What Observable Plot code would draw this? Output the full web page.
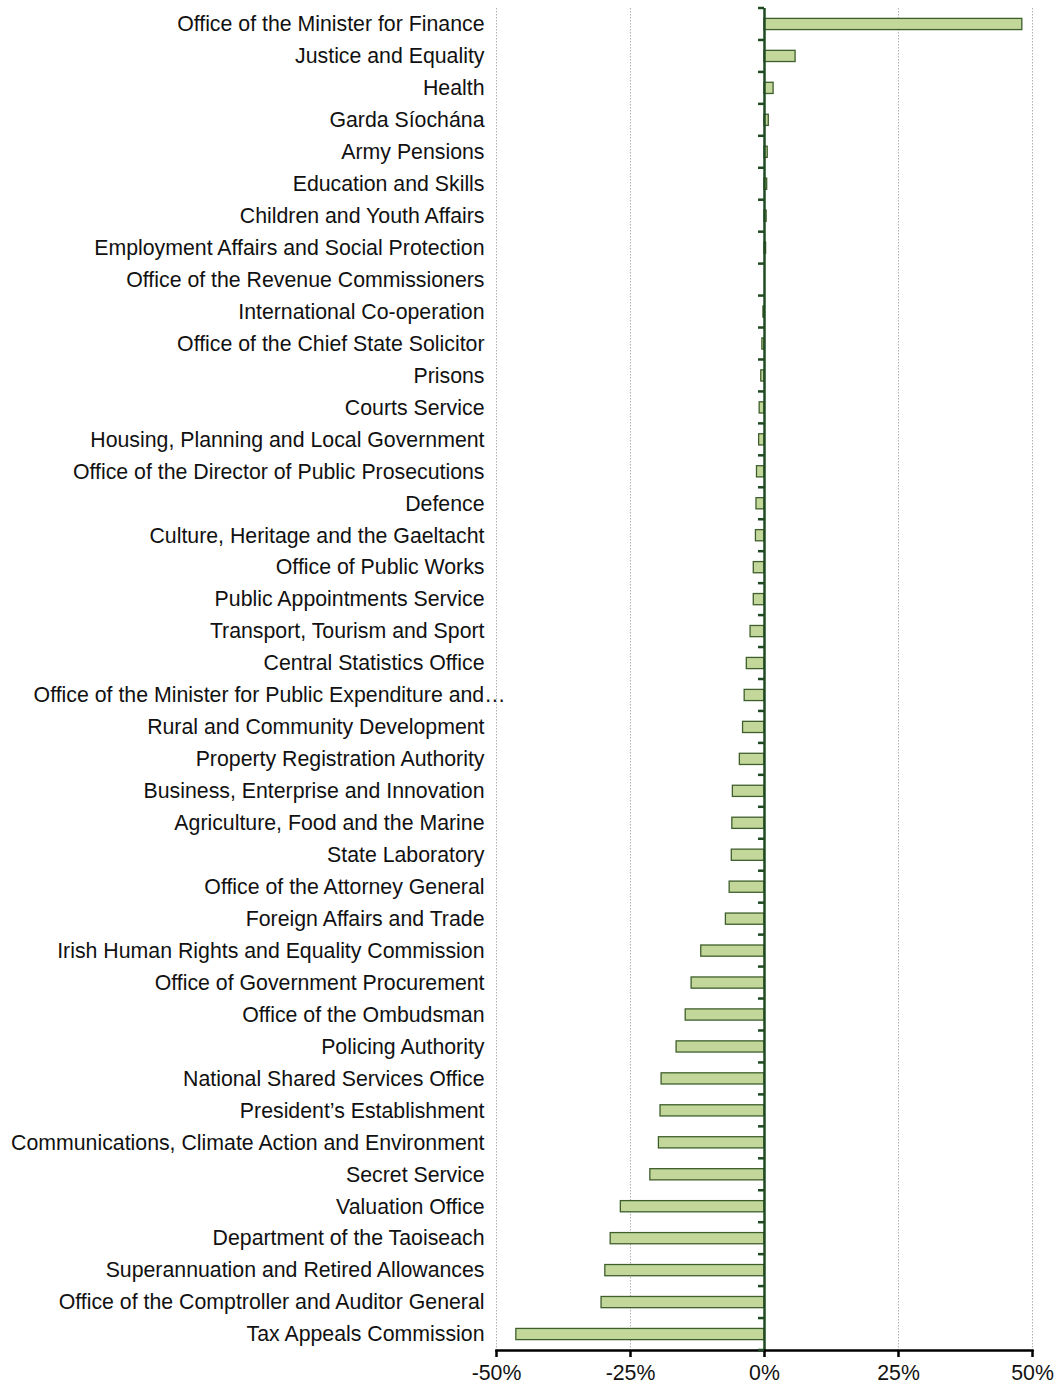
<!DOCTYPE html>
<html>
<head>
<meta charset="utf-8">
<script src="https://cdn.jsdelivr.net/npm/d3@7"></script>
<script src="https://cdn.jsdelivr.net/npm/@observablehq/plot@0.6"></script>
<style>
  html, body { margin: 0; padding: 0; background: #fff; }
  #chart svg { display: block; }
</style>
</head>
<body>
<div id="chart"></div>
<script>
const categories = [
  "Office of the Minister for Finance",
  "Justice and Equality",
  "Health",
  "Garda Síochána",
  "Army Pensions",
  "Education and Skills",
  "Children and Youth Affairs",
  "Employment Affairs and Social Protection",
  "Office of the Revenue Commissioners",
  "International Co-operation",
  "Office of the Chief State Solicitor",
  "Prisons",
  "Courts Service",
  "Housing, Planning and Local Government",
  "Office of the Director of Public Prosecutions",
  "Defence",
  "Culture, Heritage and the Gaeltacht",
  "Office of Public Works",
  "Public Appointments Service",
  "Transport, Tourism and Sport",
  "Central Statistics Office",
  "Office of the Minister for Public Expenditure and…",
  "Rural and Community Development",
  "Property Registration Authority",
  "Business, Enterprise and Innovation",
  "Agriculture, Food and the Marine",
  "State Laboratory",
  "Office of the Attorney General",
  "Foreign Affairs and Trade",
  "Irish Human Rights and Equality Commission",
  "Office of Government Procurement",
  "Office of the Ombudsman",
  "Policing Authority",
  "National Shared Services Office",
  "President’s Establishment",
  "Communications, Climate Action and Environment",
  "Secret Service",
  "Valuation Office",
  "Department of the Taoiseach",
  "Superannuation and Retired Allowances",
  "Office of the Comptroller and Auditor General",
  "Tax Appeals Commission"
];

const values = [
  48.1, 5.8, 1.7, 0.8, 0.6, 0.5, 0.4, 0.3, 0.0, -0.2,
  -0.4, -0.6, -0.9, -1.0, -1.4, -1.5, -1.6, -2.0, -2.0, -2.6,
  -3.3, -3.7, -4.0, -4.6, -5.9, -6.0, -6.1, -6.5, -7.2, -11.8,
  -13.6, -14.7, -16.4, -19.2, -19.4, -19.7, -21.3, -26.8, -28.7, -29.7,
  -30.4, -46.3
];

const xTicks = [-50, -25, 0, 25, 50];

const data = categories.map((c, i) => ({category: c, value: values[i]}));

const FONT = '"Liberation Sans", Arial, "DejaVu Sans", sans-serif';
const AXIS_GREEN = "#1f4a22";

const chart = Plot.plot({
  width: 1064,
  height: 1387,
  marginLeft: 496,
  marginRight: 32,
  marginTop: 8,
  marginBottom: 37,
  style: {fontFamily: FONT, fontSize: "21.3px", color: "#111", background: "#fff"},
  x: {domain: [-50, 50], ticks: xTicks, label: null},
  y: {domain: categories, paddingInner: 0.65, paddingOuter: 0.325, label: null},
  marks: [
    Plot.gridX(xTicks.filter(d => d !== 0), {stroke: "#b0b0b0", strokeOpacity: 1, strokeWidth: 1, strokeDasharray: "1.5,1.5"}),
    Plot.barX(data, {y: "category", x: "value", fill: "#c4d79b", stroke: "#3e5f2c", strokeWidth: 1.3}),
    Plot.ruleX([0], {stroke: AXIS_GREEN, strokeWidth: 2.5}),
    Plot.axisY({tickSize: 0, tickPadding: 12, fontSize: 21.3, fill: "#111", label: null}),
    Plot.axisX(xTicks, {tickSize: 7, tickPadding: 7, fontSize: 21.3, stroke: "#000", strokeWidth: 2.5, fill: "#111", tickFormat: d => `${d}%`, label: null}),
    Plot.frame({anchor: "bottom", stroke: "#000", strokeWidth: 2.5})
  ]
});

document.getElementById("chart").appendChild(chart);

// Category separator ticks on the vertical zero axis, placed with Plot's own scales
const ys = chart.scale("y");
const xs = chart.scale("x");
const x0 = xs.apply(0);
const boundaries = categories.map(c => ys.apply(c) - (ys.step - ys.bandwidth) / 2);
boundaries.push(ys.apply(categories[categories.length - 1]) + ys.bandwidth + (ys.step - ys.bandwidth) / 2);
d3.select(chart).append("g")
  .attr("stroke", AXIS_GREEN)
  .attr("stroke-width", 2.5)
  .selectAll("line")
  .data(boundaries)
  .join("line")
  .attr("x1", x0 - 6)
  .attr("x2", x0)
  .attr("y1", d => d)
  .attr("y2", d => d);

// The truncated label overflows its column on the right, as in the original
d3.select(chart).selectAll("text")
  .filter(function() { return this.textContent.endsWith("…"); })
  .attr("dx", 21);
</script>
</body>
</html>
